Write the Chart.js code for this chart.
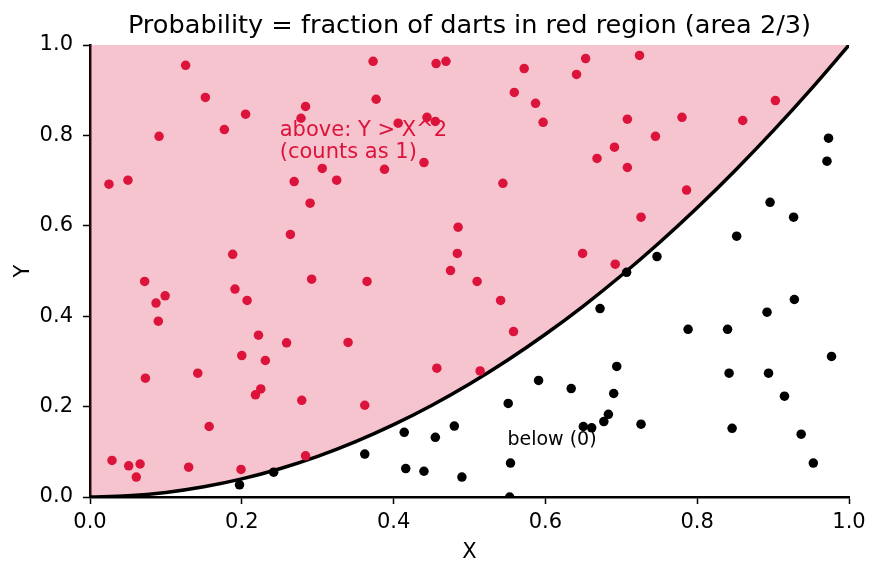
<!DOCTYPE html>
<html>
<head>
<meta charset="utf-8">
<script src="https://cdn.jsdelivr.net/npm/chart.js@4.4.1/dist/chart.umd.min.js"></script>
<style>
    html, body { margin: 0; padding: 0; background: #fff; }
    canvas { display: block; }
</style>
</head>
<body>
<canvas id="dartChart" width="879" height="573"></canvas>
<script>
// dardos acima da curva (vermelhos)
const acimaX = [0.025, 0.050, 0.126, 0.152, 0.205, 0.284, 0.278, 0.177, 0.091, 0.306,
    0.325, 0.269, 0.290, 0.264, 0.188, 0.373, 0.456, 0.469, 0.572, 0.653,
    0.641, 0.377, 0.559, 0.587, 0.597, 0.406, 0.444, 0.455, 0.440, 0.388,
    0.544, 0.485, 0.484, 0.649, 0.475, 0.724, 0.903, 0.708, 0.780, 0.860,
    0.745, 0.691, 0.668, 0.708, 0.786, 0.726, 0.692, 0.072, 0.099, 0.087,
    0.090, 0.191, 0.207, 0.292, 0.222, 0.259, 0.200, 0.231, 0.073, 0.142,
    0.225, 0.218, 0.279, 0.157, 0.029, 0.051, 0.066, 0.061, 0.130, 0.199,
    0.284, 0.365, 0.510, 0.541, 0.558, 0.340, 0.457, 0.514, 0.362];
const acimaY = [0.692, 0.701, 0.955, 0.884, 0.847, 0.864, 0.838, 0.813, 0.798, 0.727,
    0.701, 0.698, 0.650, 0.581, 0.537, 0.964, 0.959, 0.964, 0.948, 0.970,
    0.935, 0.880, 0.895, 0.871, 0.829, 0.827, 0.840, 0.831, 0.740, 0.725,
    0.694, 0.597, 0.539, 0.539, 0.501, 0.977, 0.877, 0.836, 0.840, 0.833,
    0.798, 0.774, 0.749, 0.729, 0.679, 0.619, 0.515, 0.477, 0.445, 0.429,
    0.389, 0.460, 0.435, 0.482, 0.358, 0.341, 0.313, 0.302, 0.263, 0.274,
    0.239, 0.226, 0.214, 0.156, 0.081, 0.069, 0.073, 0.044, 0.066, 0.061,
    0.091, 0.477, 0.477, 0.435, 0.366, 0.342, 0.285, 0.279, 0.203];

// dardos abaixo da curva (pretos)
const abaixoX = [0.197, 0.242, 0.591, 0.634, 0.551, 0.414, 0.455, 0.480, 0.650, 0.661,
    0.362, 0.416, 0.440, 0.490, 0.554, 0.553, 0.707, 0.747, 0.672, 0.788,
    0.840, 0.892, 0.928, 0.977, 0.694, 0.690, 0.842, 0.894, 0.915, 0.683,
    0.677, 0.726, 0.846, 0.937, 0.953, 0.973, 0.971, 0.896, 0.927, 0.852];
const abaixoY = [0.027, 0.055, 0.258, 0.240, 0.207, 0.143, 0.132, 0.157, 0.156, 0.153,
    0.095, 0.063, 0.057, 0.044, 0.075, 0.000, 0.497, 0.532, 0.417, 0.371,
    0.371, 0.409, 0.437, 0.311, 0.289, 0.229, 0.274, 0.274, 0.223, 0.183,
    0.167, 0.161, 0.152, 0.139, 0.075, 0.794, 0.743, 0.652, 0.619, 0.577];

// curva Y = X^2
const curvaX = [0, 0.05, 0.1, 0.15, 0.2, 0.25, 0.3, 0.35, 0.4, 0.45, 0.5,
    0.55, 0.6, 0.65, 0.7, 0.75, 0.8, 0.85, 0.9, 0.95, 1];
const curvaY = [0, 0.0025, 0.01, 0.0225, 0.04, 0.0625, 0.09, 0.1225, 0.16, 0.2025, 0.25,
    0.3025, 0.36, 0.4225, 0.49, 0.5625, 0.64, 0.7225, 0.81, 0.9025, 1];

const ticksEixo = [0, 0.2, 0.4, 0.6, 0.8, 1.0];

(function () {
    const paleta = {
        vermelho: '#dc143c',
        rosa: 'rgba(220, 20, 60, 0.25)',
        preto: '#000'
    };
    Chart.defaults.color = '#000';
    Chart.defaults.font.family = "'DejaVu Sans', sans-serif";

    const pontos = (xs, ys) => xs.map((x, i) => ({ x: x, y: ys[i] }));

    // textos dentro do grafico
    const textos = {
        id: 'textos',
        afterDatasetsDraw(chart) {
            const { ctx, scales: { x, y } } = chart;
            ctx.save();
            ctx.textAlign = 'left';
            ctx.textBaseline = 'alphabetic';
            ctx.font = "21px 'DejaVu Sans'";
            ctx.fillStyle = paleta.vermelho;
            const ax = x.getPixelForValue(0.25);
            const ay = y.getPixelForValue(0.75);
            ctx.fillText('above: Y > X^2', ax, ay - 22);
            ctx.fillText('(counts as 1)', ax, ay);
            ctx.font = "19px 'DejaVu Sans'";
            ctx.fillStyle = paleta.preto;
            ctx.fillText('below (0)', x.getPixelForValue(0.55), y.getPixelForValue(0.115));
            ctx.restore();
        }
    };

    const eixo = (titulo, extra) => Object.assign({
        type: 'linear',
        min: 0,
        max: 1,
        afterBuildTicks: (s) => { s.ticks = ticksEixo.map(v => ({ value: v })); },
        grid: {
            drawOnChartArea: false,
            drawTicks: true,
            tickLength: 7,
            tickWidth: 1.5,
            tickColor: paleta.preto,
            color: paleta.preto
        },
        border: { display: true, color: paleta.preto, width: 2.5 }
    }, extra);

    new Chart(document.getElementById('dartChart'), {
        type: 'scatter',
        data: {
            datasets: [{
                type: 'line',
                label: 'Y = X^2',
                data: pontos(curvaX, curvaY),
                borderColor: paleta.preto,
                borderWidth: 3.5,
                pointRadius: 0,
                cubicInterpolationMode: 'monotone',
                fill: 'end',
                backgroundColor: paleta.rosa,
                order: 3
            }, {
                label: 'above',
                data: pontos(acimaX, acimaY),
                pointRadius: 4.75,
                pointHoverRadius: 4.75,
                pointBorderWidth: 0,
                backgroundColor: paleta.vermelho,
                order: 1
            }, {
                label: 'below',
                data: pontos(abaixoX, abaixoY),
                pointRadius: 4.75,
                pointHoverRadius: 4.75,
                pointBorderWidth: 0,
                backgroundColor: paleta.preto,
                order: 2
            }]
        },
        options: {
            responsive: false,
            animation: false,
            layout: { padding: { top: 0, right: 30, bottom: 0, left: 0 } },
            plugins: {
                legend: { display: false },
                tooltip: { enabled: false },
                title: {
                    display: true,
                    fullSize: false,
                    text: 'Probability = fraction of darts in red region (area 2/3)',
                    font: { size: 25.6, weight: 'normal' },
                    padding: { top: 10.6, bottom: 3.7 }
                }
            },
            scales: {
                x: eixo('X', {
                    position: 'bottom',
                    ticks: {
                        font: { size: 21 },
                        padding: 6,
                        callback: (v) => Number(v).toFixed(1)
                    },
                    title: { display: true, text: 'X', font: { size: 21 }, padding: { top: 0, bottom: 8 } },
                    afterFit: (s) => { s.height = 76; }
                }),
                y: eixo('Y', {
                    position: 'left',
                    ticks: {
                        font: { size: 21 },
                        padding: 10,
                        callback: (v) => Number(v).toFixed(1)
                    },
                    title: { display: true, text: 'Y', font: { size: 21 }, padding: { top: 11, bottom: 0 } },
                    afterFit: (s) => { s.width = 90; }
                })
            }
        },
        plugins: [textos]
    });
})();
</script>
</body>
</html>
